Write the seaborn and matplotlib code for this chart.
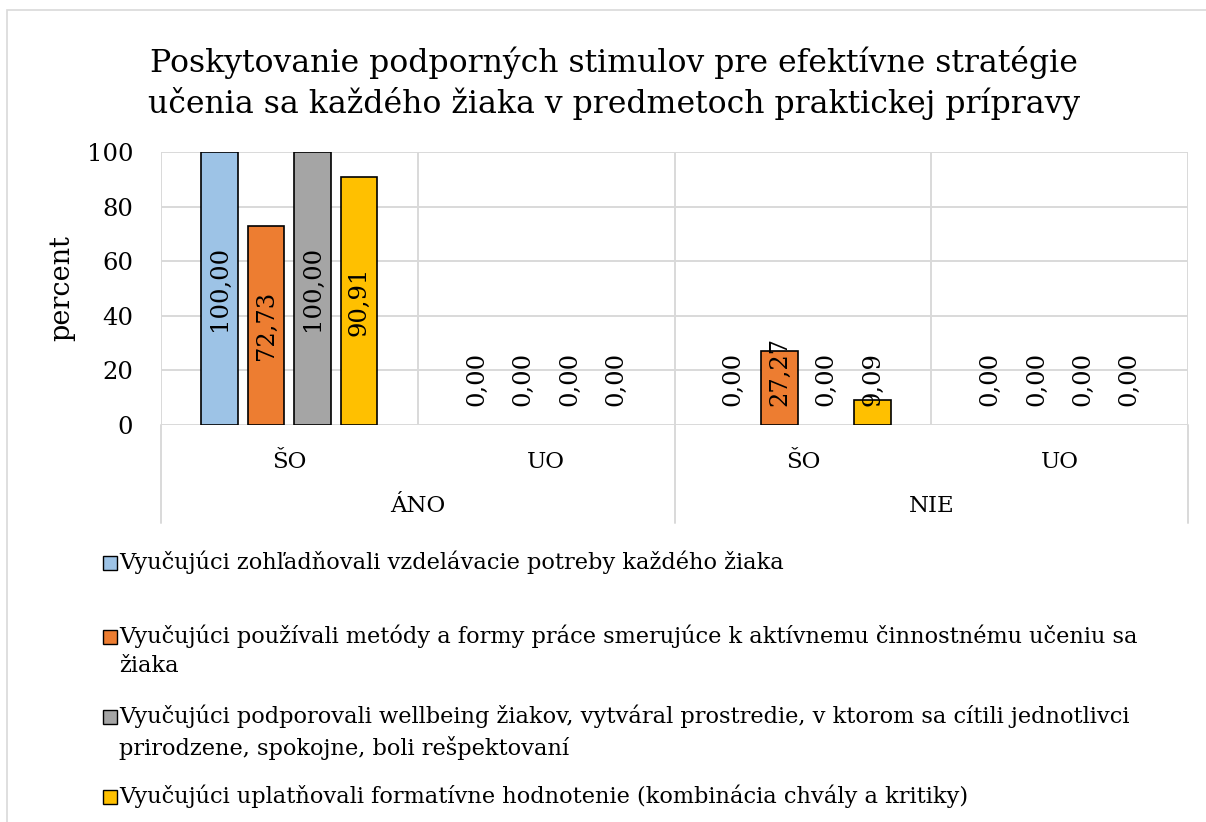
import matplotlib
matplotlib.use("Agg")
import matplotlib.pyplot as plt
import seaborn as sns
import pandas as pd
from matplotlib.patches import Rectangle
from matplotlib.transforms import blended_transform_factory

# ---------------- data ----------------
answers = ["ÁNO", "ÁNO", "NIE", "NIE"]
schools = ["ŠO", "UO", "ŠO", "UO"]
series = [
    "Vyučujúci zohľadňovali vzdelávacie potreby každého žiaka",
    "Vyučujúci používali metódy a formy práce smerujúce k aktívnemu činnostnému učeniu sa\nžiaka",
    "Vyučujúci podporovali wellbeing žiakov, vytváral prostredie, v ktorom sa cítili jednotlivci\nprirodzene, spokojne, boli rešpektovaní",
    "Vyučujúci uplatňovali formatívne hodnotenie (kombinácia chvály a kritiky)",
]
s1 = [100.00, 0.00, 0.00, 0.00]
s2 = [72.73, 0.00, 27.27, 0.00]
s3 = [100.00, 0.00, 0.00, 0.00]
s4 = [90.91, 0.00, 9.09, 0.00]
values = [s1, s2, s3, s4]
colors = ["#9DC3E6", "#ED7D31", "#A5A5A5", "#FFC000"]
yticks = [0, 20, 40, 60, 80, 100]
title = "Poskytovanie podporných stimulov pre efektívne stratégie\nučenia sa každého žiaka v predmetoch praktickej prípravy"
ylabel = "percent"

# ---------------- frame ----------------
cat_keys = [f"{a}|{s}" for a, s in zip(answers, schools)]
rows = []
for name, vals in zip(series, values):
    for k, v in zip(cat_keys, vals):
        rows.append({"cat": k, "series": name, "value": v})
df = pd.DataFrame(rows)

W, H = 1206, 822
sns.set_theme(style="white")
plt.rcParams["font.family"] = ["DejaVu Serif", "DejaVu Sans"]
plt.rcParams["text.color"] = "black"
plt.rcParams["xtick.color"] = "black"
plt.rcParams["ytick.color"] = "black"
fig = plt.figure(figsize=(W / 100, H / 100), dpi=100)
fig.patch.set_facecolor("white")

x0, x1, ytop, ybot = 161, 1188, 152, 425
ax = fig.add_axes([x0 / W, 1 - ybot / H, (x1 - x0) / W, (ybot - ytop) / H])

GRID = "#D9D9D9"
sns.barplot(data=df, x="cat", y="value", hue="series", order=cat_keys,
            hue_order=series, palette=colors, saturation=1, width=0.724,
            gap=0.215, edgecolor="black", linewidth=1.2, legend=False,
            errorbar=None, ax=ax, zorder=3)

ax.set_xlim(-0.5, 3.5)
ax.set_ylim(0, 100)
ax.set_yticks(yticks)
ax.set_yticklabels([str(t) for t in yticks], fontsize=17.5)
ax.set_xticks(range(4))
ax.set_xticklabels(schools, fontsize=16.5)
ax.set_xticks([-0.5, 0.5, 1.5, 2.5, 3.5], minor=True)
ax.tick_params(axis="y", length=0, pad=20)
ax.tick_params(axis="x", which="both", length=0, pad=19)
ax.grid(axis="y", color=GRID, lw=1.4, zorder=0)
ax.grid(axis="x", which="minor", color=GRID, lw=1.4, zorder=0)
ax.grid(axis="x", which="major", visible=False)
for sp in ax.spines.values():
    sp.set_visible(False)
ax.set_xlabel("")
ax.set_ylabel("")

# data labels
for i, cont in enumerate(ax.containers):
    for j, bar in enumerate(cont):
        v = values[i][j]
        if v == 0:
            bar.set_visible(False)
        xc = bar.get_x() + bar.get_width() / 2
        lab = f"{v:.2f}".replace(".", ",")
        if v >= 40:
            ax.text(xc, v / 2, lab, rotation=90, ha="center", va="center",
                    fontsize=17.5, color="black", zorder=5)
        else:
            ax.text(xc, 7.0, lab, rotation=90, ha="center", va="bottom",
                    fontsize=17.5, color="black", zorder=5)

# multi-level category axis
tr = blended_transform_factory(ax.transData, ax.transAxes)
depth = -(523 - ybot) / (ybot - ytop)
for xs in [-0.5, 1.5, 3.5]:
    ax.plot([xs, xs], [0, depth], transform=tr, clip_on=False, color=GRID, lw=1.4)
ylev = -(506 - ybot) / (ybot - ytop)
for a in dict.fromkeys(answers):
    idx = [k for k, aa in enumerate(answers) if aa == a]
    ax.text(sum(idx) / len(idx), ylev, a, transform=tr, ha="center", va="center",
            fontsize=16.5)

# title and y label
fig.text(614 / W, 1 - 83 / H, title, ha="center", va="center", fontsize=22.7,
         linespacing=1.3)
fig.text(62 / W, 1 - 288 / H, ylabel, rotation=90, ha="center", va="center", fontsize=19.5)

# legend
leg_y = [563, 637, 717, 797]
for name, col, yy in zip(series, colors, leg_y):
    fig.add_artist(Rectangle((103 / W, 1 - (yy + 7) / H), 14 / W, 14 / H,
                             transform=fig.transFigure, facecolor=col,
                             edgecolor="black", lw=1.0))
    fig.text(119 / W, 1 - (yy - 13) / H, name, ha="left", va="top", fontsize=16.2,
             linespacing=1.45)

# chart border
fig.add_artist(Rectangle((7 / W, -0.1), 1.2, 1.1 - 10 / H, transform=fig.transFigure,
                         facecolor="none", edgecolor=GRID, lw=1.2))

fig.savefig("out.png", dpi=100)
